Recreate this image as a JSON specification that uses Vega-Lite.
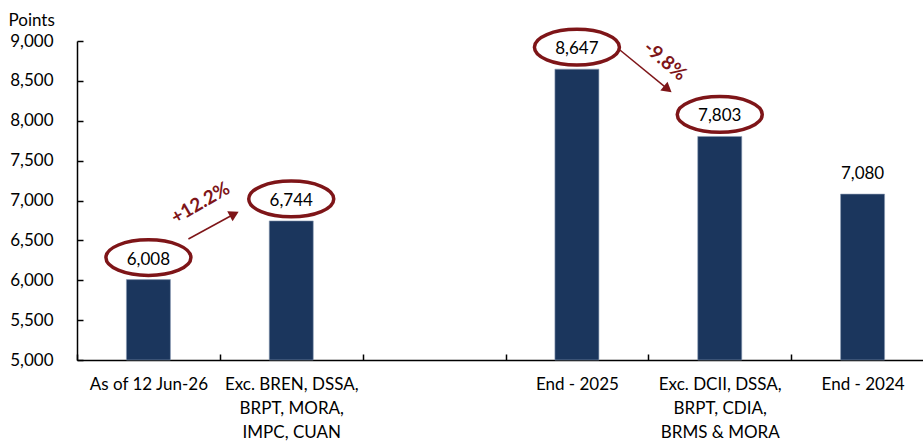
{
  "$schema": "https://vega.github.io/schema/vega-lite/v6.json",
  "width": 857,
  "height": 319,
  "autosize": {"type": "none"},
  "padding": {"top": 41, "left": 77, "right": 0, "bottom": 81},
  "config": {
    "view": {"stroke": null},
    "font": "Lato",
    "axis": {"labelFont": "Lato", "titleFont": "Lato", "labelColor": "#000", "titleColor": "#000", "domainColor": "#000", "tickColor": "#000", "labelFontSize": 17, "titleFontSize": 17, "grid": false},
    "axisY": {"tickSize": -6, "labelPadding": 30, "domainWidth": 1.5, "tickWidth": 1.5, "titleAngle": 0, "titleAlign": "left", "titleBaseline": "alphabetic", "titleX": -69, "titleY": -16, "titleFontWeight": "normal"}
  },
  "datasets": {
    "bars": [
      {"cat": "As of 12 Jun-26", "value": 6008, "highlight": true},
      {"cat": "Exc. BREN, DSSA,|BRPT, MORA,|IMPC, CUAN", "value": 6744, "highlight": true},
      {"cat": "End - 2025", "value": 8647, "highlight": true},
      {"cat": "Exc. DCII, DSSA,|BRPT, CDIA,|BRMS & MORA", "value": 7803, "highlight": true},
      {"cat": "End - 2024", "value": 7080, "highlight": false}
    ],
    "arrowUp": [
      {"from": "As of 12 Jun-26", "to": "Exc. BREN, DSSA,|BRPT, MORA,|IMPC, CUAN", "y1": 6517, "y2": 6831, "label": "+12.2%", "labelY": 6969}
    ],
    "arrowDown": [
      {"from": "End - 2025", "to": "Exc. DCII, DSSA,|BRPT, CDIA,|BRMS & MORA", "y1": 8887, "y2": 8396, "label": "-9.8%", "labelY": 8749}
    ]
  },
  "encoding": {
    "x": {
      "field": "cat", "type": "nominal",
      "scale": {"domain": ["As of 12 Jun-26", "Exc. BREN, DSSA,|BRPT, MORA,|IMPC, CUAN", " ", "End - 2025", "Exc. DCII, DSSA,|BRPT, CDIA,|BRMS & MORA", "End - 2024"], "paddingInner": 0, "paddingOuter": 0},
      "sort": null,
      "axis": {"title": null, "labelAngle": 0, "labelExpr": "split(datum.label, '|')", "labelLineHeight": 24, "labelPadding": 22, "tickSize": -6, "tickBand": "extent", "domainWidth": 1.5, "tickWidth": 1.5, "labelLimit": 0}
    }
  },
  "layer": [
    {
      "data": {"name": "bars"},
      "mark": {"type": "bar", "size": 44, "color": "#1b365d", "stroke": "#8a9bb3", "strokeWidth": 0.6},
      "encoding": {
        "y": {"field": "value", "type": "quantitative", "scale": {"domain": [5000, 9000], "zero": false, "nice": false},
          "axis": {"values": [5000, 5500, 6000, 6500, 7000, 7500, 8000, 8500, 9000], "format": ",.0f", "title": "Points"}},
        "y2": {"datum": 5000}
      }
    },
    {
      "data": {"name": "bars"},
      "mark": {"type": "text", "dy": -20, "baseline": "middle", "fontSize": 17, "color": "#000"},
      "encoding": {
        "y": {"field": "value", "type": "quantitative", "axis": {"values": [5000, 5500, 6000, 6500, 7000, 7500, 8000, 8500, 9000], "format": ",.0f", "title": "Points"}},
        "text": {"field": "value", "type": "quantitative", "format": ","}
      }
    },
    {
      "data": {"name": "bars"},
      "transform": [{"filter": "datum.highlight"}],
      "mark": {"type": "point", "shape": "M-1,0A1,0.42,0,1,0,1,0A1,0.42,0,1,0,-1,0", "size": 7225, "filled": false, "stroke": "#7e1518", "strokeWidth": 3.5, "opacity": 1, "yOffset": -22},
      "encoding": {
        "y": {"field": "value", "type": "quantitative", "axis": {"values": [5000, 5500, 6000, 6500, 7000, 7500, 8000, 8500, 9000], "format": ",.0f", "title": "Points"}}
      }
    },
    {
      "data": {"name": "arrowUp"},
      "mark": {"type": "rule", "color": "#7e1518", "strokeWidth": 1.5, "xOffset": 40, "x2Offset": -57},
      "encoding": {
        "x": {"field": "from", "type": "nominal"},
        "x2": {"field": "to"},
        "y": {"field": "y1", "type": "quantitative", "axis": {"values": [5000, 5500, 6000, 6500, 7000, 7500, 8000, 8500, 9000], "format": ",.0f", "title": "Points"}},
        "y2": {"field": "y2"}
      }
    },
    {
      "data": {"name": "arrowUp"},
      "mark": {"type": "point", "shape": "triangle-right", "size": 130, "filled": true, "color": "#7e1518", "opacity": 1, "angle": -28, "xOffset": -57},
      "encoding": {
        "x": {"field": "to", "type": "nominal"},
        "y": {"field": "y2", "type": "quantitative", "axis": {"values": [5000, 5500, 6000, 6500, 7000, 7500, 8000, 8500, 9000], "format": ",.0f", "title": "Points"}}
      }
    },
    {
      "data": {"name": "arrowUp"},
      "mark": {"type": "text", "angle": -30, "fontSize": 19, "fontWeight": "bold", "color": "#7e1518", "xOffset": 52, "baseline": "middle"},
      "encoding": {
        "x": {"field": "from", "type": "nominal"},
        "y": {"field": "labelY", "type": "quantitative", "axis": {"values": [5000, 5500, 6000, 6500, 7000, 7500, 8000, 8500, 9000], "format": ",.0f", "title": "Points"}},
        "text": {"field": "label"}
      }
    },
    {
      "data": {"name": "arrowDown"},
      "mark": {"type": "rule", "color": "#7e1518", "strokeWidth": 1.5, "xOffset": 43, "x2Offset": -52},
      "encoding": {
        "x": {"field": "from", "type": "nominal"},
        "x2": {"field": "to"},
        "y": {"field": "y1", "type": "quantitative", "axis": {"values": [5000, 5500, 6000, 6500, 7000, 7500, 8000, 8500, 9000], "format": ",.0f", "title": "Points"}},
        "y2": {"field": "y2"}
      }
    },
    {
      "data": {"name": "arrowDown"},
      "mark": {"type": "point", "shape": "triangle-right", "size": 130, "filled": true, "color": "#7e1518", "opacity": 1, "angle": 39, "xOffset": -52},
      "encoding": {
        "x": {"field": "to", "type": "nominal"},
        "y": {"field": "y2", "type": "quantitative", "axis": {"values": [5000, 5500, 6000, 6500, 7000, 7500, 8000, 8500, 9000], "format": ",.0f", "title": "Points"}}
      }
    },
    {
      "data": {"name": "arrowDown"},
      "mark": {"type": "text", "angle": 40, "fontSize": 19, "fontWeight": "bold", "color": "#7e1518", "xOffset": 88, "baseline": "middle"},
      "encoding": {
        "x": {"field": "from", "type": "nominal"},
        "y": {"field": "labelY", "type": "quantitative", "axis": {"values": [5000, 5500, 6000, 6500, 7000, 7500, 8000, 8500, 9000], "format": ",.0f", "title": "Points"}},
        "text": {"field": "label"}
      }
    }
  ]
}
